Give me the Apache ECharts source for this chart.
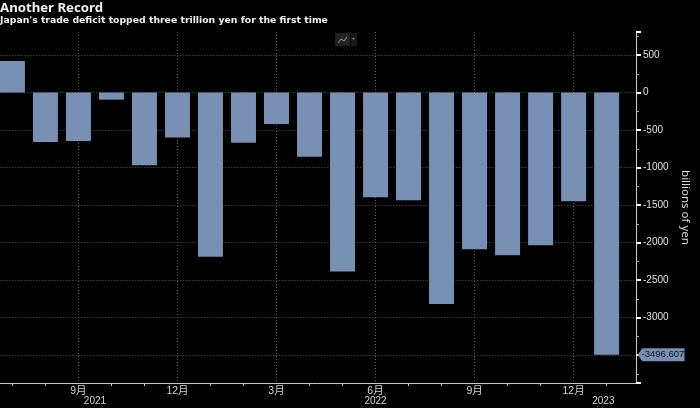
<!DOCTYPE html>
<html><head><meta charset="utf-8">
<style>html,body{margin:0;padding:0;background:#000}#c{width:700px;height:408px}</style>
<script src="https://cdn.jsdelivr.net/npm/echarts@6/dist/echarts.min.js"></script>
</head><body><div id="c"></div>
<script>
// x position counts months from Sep 2021 = 0
const months = [-2,-1,0,1,2,3,4,5,6,7,8,9,10,11,12,13,14,15,16];
const values = [420,-660,-645,-95,-970,-600,-2190,-670,-420,-855,-2385,-1395,-1435,-2820,-2090,-2170,-2035,-1450,-3496.607];
const monthLabels = {0:'9月',3:'12月',6:'3月',9:'6月',12:'9月',15:'12月'};
const yearLabels = {0.5:'2021',9:'2022',15.9:'2023'};
const yearBreaks = [3,15];
const lastValue = -3496.607;
const xMin=-3, xMax=16.89;
const font='"Liberation Sans","Noto Sans CJK JP",sans-serif';
const chart=echarts.init(document.getElementById('c'));
chart.setOption({
 backgroundColor:'#000',animation:false,
 title:[
  {text:'Another Record',left:0,top:2,padding:0,textStyle:{color:'#f2f2f2',fontSize:13.2,fontWeight:'bold',fontFamily:'"Noto Sans"'}},
  {text:"Japan's trade deficit topped three trillion yen for the first time",left:0,top:16,padding:0,textStyle:{color:'#f2f2f2',fontSize:9.3,fontWeight:'bold',fontFamily:'"DejaVu Sans"'}}
 ],
 grid:{left:-20.6,right:64,top:32,bottom:25,containLabel:false,outerBoundsMode:'none'},
 xAxis:[{type:'value',min:xMin,max:xMax,interval:3,position:'bottom',
   axisLine:{onZero:false,lineStyle:{color:'#c8c8c8',width:1}},
   axisTick:{show:false},
   minorTick:{show:true,splitNumber:3,length:3,lineStyle:{color:'#c8c8c8'}},
   axisLabel:{color:'#d4d4d4',fontSize:10.5,fontFamily:font,margin:3,showMinLabel:false,showMaxLabel:false,
     formatter:v=>monthLabels[v]||''},
   splitLine:{show:true,showMinLine:false,showMaxLine:false,lineStyle:{color:'#606060',type:[1,2],width:1}}},
  {type:'value',min:xMin,max:xMax,position:'bottom',
   axisLine:{show:false},
   axisTick:{show:true,customValues:yearBreaks,length:25,inside:false,lineStyle:{color:'#777'}},
   axisLabel:{color:'#d4d4d4',fontSize:10,fontFamily:font,margin:13,customValues:[0.5,9,15.9],formatter:v=>yearLabels[v]||''},
   splitLine:{show:false}}],
 yAxis:{type:'value',position:'right',min:-3873,max:807,splitNumber:9,
   name:'billions of yen',nameLocation:'middle',nameRotate:-90,nameGap:31,
   nameTextStyle:{color:'#d8d8d8',fontSize:11.5,fontFamily:'"Noto Sans"'},
   axisLine:{show:true,onZero:false,lineStyle:{color:'#c8c8c8'}},
   axisTick:{show:true,length:5,lineStyle:{color:'#fff',width:2}},
   minorTick:{show:true,splitNumber:2,length:3,lineStyle:{color:'#aaa'}},
   axisLabel:{color:'#e0e0e0',fontSize:10,fontFamily:font,margin:7,showMinLabel:false,showMaxLabel:false,formatter:v=>String(v)},
   splitLine:{show:true,showMinLine:false,showMaxLine:false,lineStyle:{color:'#606060',type:[1,2],width:1}}},
 series:[{type:'bar',barWidth:25,itemStyle:{color:'#7790b3'},
   data:months.map((m,i)=>[m,values[i]]),
   markPoint:{symbol:'path://M0 6 L5 0 L48 0 L48 12 L5 12 Z',symbolSize:[47,13],symbolKeepAspect:false,symbolOffset:[25,0],silent:true,
     label:{show:true,position:'inside',color:'#0c1522',fontSize:9.5,fontFamily:font,offset:[2,0],formatter:()=>lastValue.toFixed(3)},
     itemStyle:{color:'#7790b3'},
     data:[{coord:[xMax,lastValue]}]}
 }],
 graphic:[
  {type:'rect',shape:{x:335,y:33,width:15,height:13},style:{fill:'#222'}},
  {type:'rect',shape:{x:351,y:33,width:6,height:13},style:{fill:'#1a1a1a'}},
  {type:'polyline',shape:{points:[[338,43],[341,39],[344,41],[347,37]]},style:{stroke:'#999',fill:null,lineWidth:1}},
  {type:'polygon',shape:{points:[[352,38],[355,38],[353.5,40]]},style:{fill:'#888'}}
 ]
});
</script></body></html>
